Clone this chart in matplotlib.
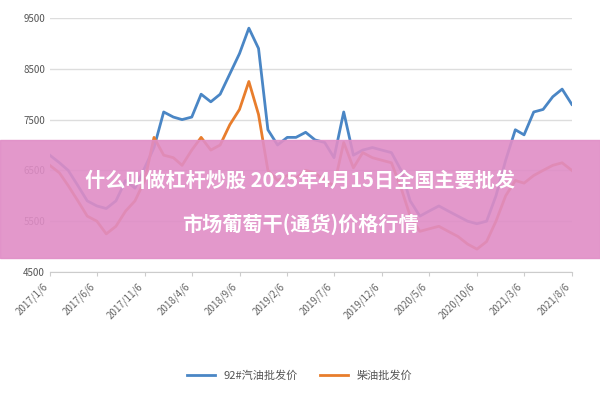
import matplotlib.pyplot as plt
import pandas as pd

# monthly readings, 2017/1/6 .. 2021/8/6
dates = pd.date_range('2017-01-01', '2021-08-01', freq='MS') + pd.Timedelta(days=5)
gasoline = [6800, 6650, 6500, 6200, 5900, 5800, 5750, 5900, 6300, 6150, 6550, 6950,
            7650, 7550, 7500, 7550, 8000, 7850, 8000, 8400, 8800, 9300, 8900, 7300,
            7000, 7150, 7150, 7250, 7100, 7050, 6750, 7650, 6800, 6900, 6950, 6900,
            6850, 6500, 5900, 5600, 5700, 5800, 5700, 5600, 5500, 5450, 5500, 6000,
            6700, 7300, 7200, 7650, 7700, 7950, 8100, 7800]
diesel = [6600, 6450, 6200, 5900, 5600, 5500, 5250, 5400, 5700, 5900, 6300, 7150,
          6800, 6750, 6600, 6900, 7150, 6900, 7000, 7400, 7700, 8250, 7600, 6500,
          6300, 6400, 6350, 6500, 6450, 6300, 6200, 7050, 6550, 6850, 6750, 6700,
          6650, 6150, 5600, 5300, 5350, 5400, 5300, 5200, 5050, 4950, 5100, 5500,
          6000, 6300, 6250, 6400, 6500, 6600, 6650, 6500]
yticks = [4500, 5500, 6500, 7500, 8500, 9500]
tick_dates = pd.date_range('2017-01-01', '2021-08-01', freq='5MS') + pd.Timedelta(days=5)

plt.rcParams['font.family'] = ['Noto Sans CJK SC']
fig = plt.figure(figsize=(6, 4), dpi=100)
ax = fig.add_axes([0.083, 0.32, 0.87, 0.635])
ax.plot(dates, gasoline, color='#4a86c5', lw=2, label='92#汽油批发价')
ax.plot(dates, diesel, color='#e87d2c', lw=2, label='柴油批发价')
ax.set_ylim(4500, 9500)
ax.set_yticks(yticks)
ax.set_xlim(dates[0], dates[-1])
ax.set_xticks(tick_dates)
ax.set_xticklabels([f'{d.year}/{d.month}/{d.day}' for d in tick_dates],
                   rotation=45, ha='right', fontsize=7, color='#666666')
ax.tick_params(axis='y', labelsize=7, colors='#555555', length=0)
ax.tick_params(axis='x', length=3, color='#cccccc')
ax.grid(axis='y', color='#dddddd', lw=1)
for s in ['top', 'right', 'left']:
    ax.spines[s].set_visible(False)
ax.spines['bottom'].set_color('#cccccc')
fig.legend(loc='center', bbox_to_anchor=(0.5, 0.06), ncol=2, frameon=False,
           fontsize=8, labelcolor='#555555', handlelength=2.5)

# pink title banner
fig.patches.append(plt.Rectangle((0, 0.355), 1, 0.295, transform=fig.transFigure,
                                 color='#e08dc6', alpha=0.9, zorder=5))
fig.text(0.5, 0.55, '什么叫做杠杆炒股 2025年4月15日全国主要批发', ha='center', va='center',
         fontsize=14.5, fontweight='bold', color='white', zorder=6)
fig.text(0.5, 0.44, '市场葡萄干(通货)价格行情', ha='center', va='center',
         fontsize=14.5, fontweight='bold', color='white', zorder=6)
fig.savefig('out.png')
